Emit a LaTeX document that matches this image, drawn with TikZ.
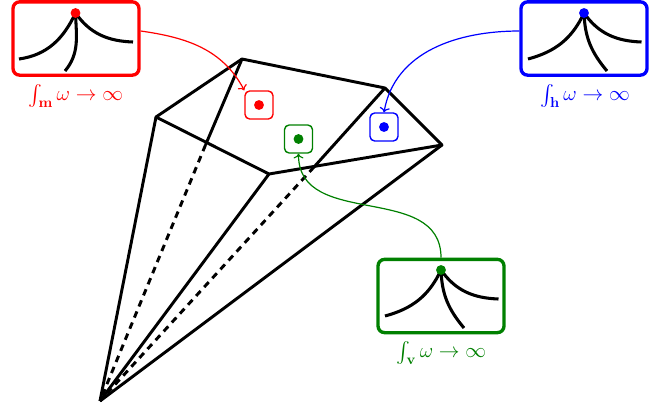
\documentclass[tikz,border=0pt]{standalone}
\usepackage{amsmath}
\usetikzlibrary{arrows.meta, positioning}
\definecolor{peakRed}{HTML}{FF0000}
\definecolor{peakBlue}{HTML}{0000FF}
\definecolor{peakGreen}{HTML}{008000}
\tikzset{
  edgeS/.style={black, line width=2.2pt, line join=round},
  edgeD/.style={black, line width=2.2pt, dash pattern=on 5pt off 4pt},
  curveK/.style={black, line width=2.3pt},
  link/.style={->, line width=0.9pt},
  bigBox/.style={rectangle, rounded corners=5pt, line width=2.5pt,
                 minimum width=94.5pt, minimum height=55pt, inner sep=0pt},
  smallBox/.style={rectangle, rounded corners=3.5pt, line width=1.05pt,
                   minimum width=21pt, minimum height=21pt, inner sep=0pt},
  dotN/.style={circle, inner sep=0pt, minimum size=7.4pt},
  labelN/.style={font=\Large, scale=1.08, inner sep=0pt},
}
\begin{document}
\begin{tikzpicture}[x=0.75pt, y=-0.75pt]
  \useasboundingbox (0,0) rectangle (668,411);

  % pyramid
  \coordinate (apex) at (100,401);
  \coordinate (pA) at (156,117);
  \coordinate (pB) at (242,59);
  \coordinate (pC) at (385,88);
  \coordinate (pD) at (442,145);
  \coordinate (pE) at (269,174);
  \coordinate (xB) at (205.5,145);
  \coordinate (xC) at (314,167);
  \draw[edgeS] (pA) -- (pB) -- (pC) -- (pD) -- (pE) -- cycle;
  \draw[edgeS] (apex) -- (pA);
  \draw[edgeS] (apex) -- (pE);
  \draw[edgeS] (apex) -- (pD);
  \draw[edgeS] (pB) -- (xB);
  \draw[edgeS] (pC) -- (xC);
  \draw[edgeD] (xC) -- (apex);
  \draw[edgeD] (xB) -- (apex);

  % red
  \node[bigBox, draw=peakRed] (boxM) at (76,38.5) {};
  \coordinate (topM) at (75.5,13);
  \draw[curveK] (topM) to[out=-115, in=8] ++(-56.5,46);
  \draw[curveK] (topM) to[out=-55, in=178] ++(57.5,29);
  \draw[curveK] (topM) to[out=-88, in=50] ++(-10.5,58);
  \node[dotN, fill=peakRed] (dotM) at (topM) {};
  \node[labelN, text=peakRed] (textM) at (76,96) {$\int_{\mathbf{m}} \omega \to \infty$};
  \node[smallBox, draw=peakRed] (cellM) at (259,105) {};
  \node[dotN, fill=peakRed] (dotCellM) at (259,105) {};
  \draw[link, peakRed] (boxM.east |- 0,31) coordinate (outM) to[out=-8, in=118] (cellM.north west);

  % blue
  \node[bigBox, draw=peakBlue] (boxH) at (584,38.5) {};
  \coordinate (topH) at (584,13);
  \draw[curveK] (topH) to[out=-115, in=15] ++(-56,46);
  \draw[curveK] (topH) to[out=-55, in=178] ++(57.5,29);
  \draw[curveK] (topH) to[out=-88, in=130] ++(23,58);
  \node[dotN, fill=peakBlue] (dotH) at (topH) {};
  \node[labelN, text=peakBlue] (textH) at (585,96) {$\int_{\mathbf{h}} \omega \to \infty$};
  \node[smallBox, draw=peakBlue] (cellH) at (384,127) {};
  \node[dotN, fill=peakBlue] (dotCellH) at (384,127) {};
  \draw[link, peakBlue] (boxH.west |- 0,31) coordinate (outH) to[out=180, in=80] (cellH.north);

  % green
  \node[bigBox, draw=peakGreen] (boxV) at (441,296) {};
  \coordinate (topV) at (441,270);
  \draw[curveK] (topV) to[out=-115, in=15] ++(-56,46);
  \draw[curveK] (topV) to[out=-55, in=178] ++(57.5,29);
  \draw[curveK] (topV) to[out=-88, in=130] ++(23,58);
  \node[dotN, fill=peakGreen] (dotV) at (topV) {};
  \node[labelN, text=peakGreen] (textV) at (441.5,353) {$\int_{\mathbf{v}} \omega \to \infty$};
  \node[smallBox, draw=peakGreen] (cellV) at (298.5,139) {};
  \node[dotN, fill=peakGreen] (dotCellV) at (298.5,139) {};
  \draw[link, peakGreen] (boxV.north) to[out=90, in=-90, looseness=1.1] (cellV.south);
\end{tikzpicture}
\end{document}
